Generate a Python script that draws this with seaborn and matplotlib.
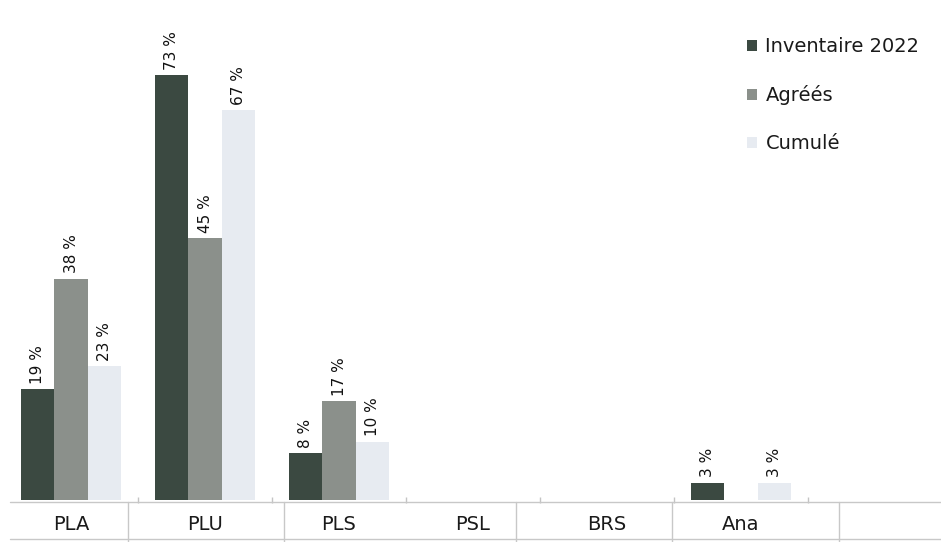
import numpy as np
import pandas as pd
import matplotlib
matplotlib.use("Agg")
import matplotlib.pyplot as plt
from matplotlib.lines import Line2D
import seaborn as sns

# Share of housing units by financing type
categories = ["PLA", "PLU", "PLS", "PSL", "BRS", "Ana"]
series = ["Inventaire 2022", "Agréés", "Cumulé"]
inventaire_2022 = [19, 73, 8, np.nan, np.nan, 3]
agrees = [38, 45, 17, np.nan, np.nan, np.nan]
cumule = [23, 67, 10, np.nan, np.nan, 3]

colors = ["#3b4941", "#8b908b", "#e7ebf1"]

df = pd.DataFrame({
    "categorie": categories * 3,
    "serie": [s for s in series for _ in categories],
    "valeur": inventaire_2022 + agrees + cumule,
})
df = df.dropna()

sns.set_theme(style="white")
plt.rcParams["font.family"] = ["DejaVu Sans"]

W, H = 941, 542
fig = plt.figure(figsize=(W / 100, H / 100), dpi=100)
base_px = 500          # baseline of the bars, from the top
px_per_unit = 5.82
ax = fig.add_axes([4 / W, (H - base_px) / H, 938 / W, base_px / H])

sns.barplot(data=df, x="categorie", y="valeur", hue="serie",
            order=categories, hue_order=series, palette=colors,
            width=0.75, saturation=1, edgecolor="none", linewidth=0,
            errorbar=None, ax=ax, legend=True)

ax.set_xlim(-0.5, 6.5)
ax.set_ylim(0, base_px / px_per_unit)
ax.set_xlabel("")
ax.set_ylabel("")
ax.set_yticks([])
for s in ax.spines.values():
    s.set_visible(False)

ax.set_xticks(range(len(categories)), categories)
ax.set_xticks(np.arange(0.5, 6, 1), minor=True)
ax.tick_params(axis="x", which="major", length=0, pad=11, labelsize=14,
               labelcolor="#1a1a1a")
ax.tick_params(axis="x", which="minor", length=5, direction="inout",
               color="#c4c4c4", width=1, bottom=True)

for cont in ax.containers:
    ax.bar_label(cont, fmt="%g %%", rotation=90, padding=4,
                 fontsize=11, color="#111111")

handles, labels = ax.get_legend_handles_labels()
ax.legend(handles, labels, loc="upper left",
          bbox_to_anchor=(747 / W, 1 - 37 / H), bbox_transform=fig.transFigure,
          frameon=False, fontsize=14, handlelength=0.5, handleheight=0.5,
          handletextpad=0.45, labelspacing=1.5, borderpad=0, borderaxespad=0,
          labelcolor="#1a1a1a")


def hline(y, x0, x1):
    fig.add_artist(Line2D([x0 / W, x1 / W], [1 - y / H, 1 - y / H],
                          color="#c8c8c8", lw=1))


def vline(x, y0, y1):
    fig.add_artist(Line2D([x / W, x / W], [1 - y0 / H, 1 - y1 / H],
                          color="#c8c8c8", lw=1))


hline(502, 10, 941)
hline(539, 10, 941)
for x in [128, 284, 516, 672, 839]:
    vline(x, 502, 542)

fig.savefig("out.png", dpi=100, facecolor="white")
